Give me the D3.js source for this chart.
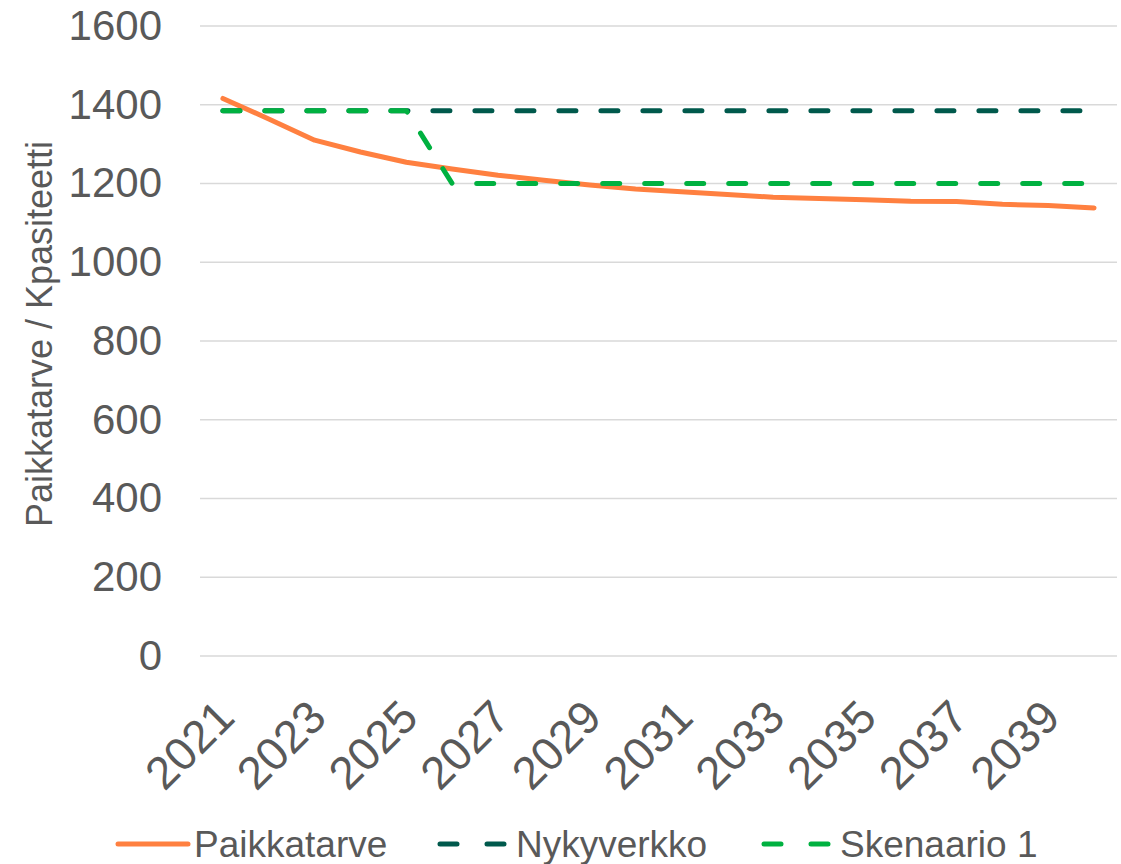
<!DOCTYPE html>
<html>
<head>
<meta charset="utf-8">
<script src="https://cdn.jsdelivr.net/npm/d3@7"></script>
<style>
  body { margin: 0; background: #fff; }
  text { font-family: "Liberation Sans", Arial, sans-serif; fill: #595959; }
</style>
</head>
<body>
<div id="chart"></div>
<script>
var width = 1121, height = 864;
var margin = {top: 26, right: 4, bottom: 208, left: 200};

// vuodet ja sarjat
var years = [2021, 2022, 2023, 2024, 2025, 2026, 2027, 2028, 2029, 2030,
             2031, 2032, 2033, 2034, 2035, 2036, 2037, 2038, 2039, 2040];
var paikkatarve = [1416, 1364, 1310, 1280, 1254, 1237, 1221, 1208, 1196, 1186,
                   1179, 1172, 1165, 1162, 1159, 1155, 1154, 1147, 1144, 1138];
var nykyverkko = [1385, 1385, 1385, 1385, 1385, 1385, 1385, 1385, 1385, 1385,
                  1385, 1385, 1385, 1385, 1385, 1385, 1385, 1385, 1385, 1385];
var skenaario1 = [1385, 1385, 1385, 1385, 1385, 1200, 1200, 1200, 1200, 1200,
                  1200, 1200, 1200, 1200, 1200, 1200, 1200, 1200, 1200, 1200];
var yTicks = [0, 200, 400, 600, 800, 1000, 1200, 1400, 1600];
var xTickYears = [2021, 2023, 2025, 2027, 2029, 2031, 2033, 2035, 2037, 2039];

var series = [
  {name: "Paikkatarve", values: paikkatarve, color: "#FF8040", dash: null},
  {name: "Nykyverkko", values: nykyverkko, color: "#00594C", dash: "17 25"},
  {name: "Skenaario 1", values: skenaario1, color: "#00B140", dash: "17 25"}
];

var plotW = width - margin.left - margin.right;
var plotH = height - margin.top - margin.bottom;

var svg = d3.select("#chart").append("svg")
    .attr("width", width).attr("height", height);
var g = svg.append("g")
    .attr("transform", "translate(" + margin.left + "," + margin.top + ")");

var x = d3.scaleBand().domain(years).range([0, plotW]);
var y = d3.scaleLinear().domain([0, 1600]).range([plotH, 0]);

// ruudukko
g.append("g").selectAll("line").data(yTicks).enter().append("line")
    .attr("x1", 0).attr("x2", plotW)
    .attr("y1", function(d){ return y(d); })
    .attr("y2", function(d){ return y(d); })
    .attr("stroke", "#D9D9D9").attr("stroke-width", 1.5);

// y-akseli
var yAxis = d3.axisLeft(y).tickValues(yTicks).tickFormat(d3.format("d"))
    .tickSize(0).tickPadding(38);
var ya = g.append("g").call(yAxis);
ya.select(".domain").remove();
ya.selectAll("text").style("font-size", "42px").attr("fill", "#595959");

// x-akseli
var xAxis = d3.axisBottom(x).tickValues(xTickYears).tickSize(0).tickPadding(0);
var xa = g.append("g").attr("transform", "translate(0," + plotH + ")").call(xAxis);
xa.select(".domain").remove();
xa.selectAll("text")
    .style("font-size", "46px").attr("fill", "#595959")
    .attr("text-anchor", "end")
    .attr("dy", null).attr("y", 0)
    .attr("transform", "translate(14,64) rotate(-45)");

// akselin otsikko
svg.append("text")
    .attr("transform", "translate(52," + 334 + ") rotate(-90)")
    .attr("text-anchor", "middle")
    .style("font-size", "36px")
    .text("Paikkatarve / Kpasiteetti");

// viivat
var line = d3.line()
    .x(function(d, i){ return x(years[i]) + x.bandwidth() / 2; })
    .y(function(d){ return y(d); });

series.forEach(function(s){
  g.append("path")
    .datum(s.values)
    .attr("d", line)
    .attr("fill", "none")
    .attr("stroke", s.color)
    .attr("stroke-width", 5)
    .attr("stroke-linecap", "round")
    .attr("stroke-linejoin", "round")
    .attr("stroke-dasharray", s.dash);
});

// selite
var legendX = [118, 440, 764];
var leg = svg.append("g").attr("transform", "translate(0,844)");
series.forEach(function(s, i){
  leg.append("line")
    .attr("x1", legendX[i]).attr("x2", legendX[i] + 70)
    .attr("y1", 0).attr("y2", 0)
    .attr("stroke", s.color).attr("stroke-width", 5)
    .attr("stroke-linecap", "round")
    .attr("stroke-dasharray", s.dash ? "17 30" : null);
  leg.append("text")
    .attr("x", legendX[i] + 76).attr("y", 13)
    .style("font-size", "37px")
    .text(s.name);
});
</script>
</body>
</html>
